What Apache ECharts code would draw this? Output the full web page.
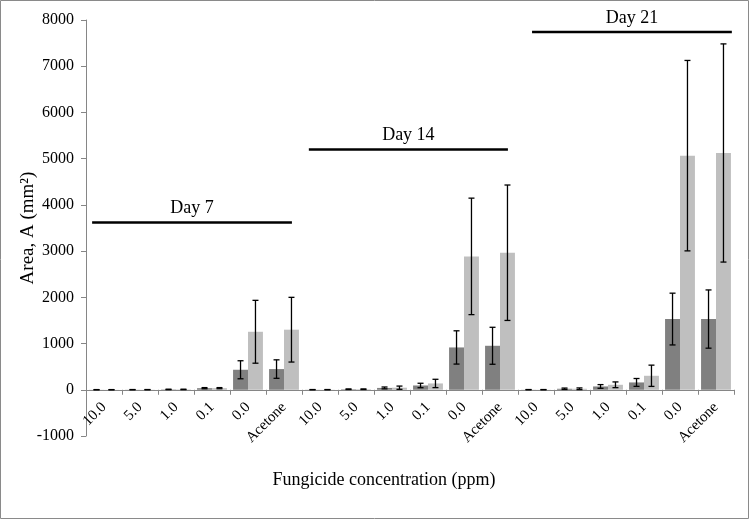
<!DOCTYPE html>
<html>
<head>
<meta charset="utf-8">
<script src="https://cdn.jsdelivr.net/npm/echarts@6/dist/echarts.min.js"></script>
<style>
html,body{margin:0;padding:0;background:#fff;}
#chart{width:749px;height:519px;}
</style>
</head>
<body>
<div id="chart"></div>
<script>
// ---- Data ----
const categories = ['10.0','5.0','1.0','0.1','0.0','Acetone',
                    '10.0','5.0','1.0','0.1','0.0','Acetone',
                    '10.0','5.0','1.0','0.1','0.0','Acetone'];
const darkValues  = [2, 3, 8, 35, 433, 448,   3, 12, 40, 93, 916, 952,   3, 22, 72, 159, 1530, 1530];
const darkErrors  = [2, 2, 5, 12, 195, 200,   2, 6, 20, 48, 360, 400,    2, 15, 40, 85, 560, 630];
const lightValues = [2, 3, 8, 35, 1255, 1300, 3, 12, 45, 137, 2886, 2965, 3, 22, 108, 303, 5065, 5123];
const lightErrors = [2, 2, 5, 12, 680, 700,   2, 6, 35, 90, 1260, 1465,  2, 18, 62, 230, 2060, 2360];
const yTicks = { min: -1000, max: 8000, interval: 1000 };
// Day bracket lines (x in category units, y in data units)
const dayLabels    = ['Day 7', 'Day 14', 'Day 21'];
const dayLineStart = [0.17, 6.19, 12.39];
const dayLineEnd   = [5.72, 11.72, 17.94];
const dayLineY     = [3620, 5200, 7740];

const FONT = "'Times New Roman','Liberation Serif',serif";
const CAT_GAP = 0.17;

const errData = [];
darkValues.forEach((v, i) => errData.push([i, v, darkErrors[i], 0]));
lightValues.forEach((v, i) => errData.push([i, v, lightErrors[i], 1]));

const dayData = dayLabels.map((l, i) => [dayLineStart[i], dayLineEnd[i], dayLineY[i], l]);

const chart = echarts.init(document.getElementById('chart'), null, { renderer: 'canvas' });
chart.setOption({
  animation: false,
  backgroundColor: '#fff',
  grid: { left: 86, right: 15, top: 20, bottom: 83, containLabel: false },
  xAxis: [{
    type: 'category',
    data: categories,
    axisLine: { onZero: true, lineStyle: { color: '#868686', width: 1 } },
    axisTick: { show: true, alignWithLabel: false, length: 5, lineStyle: { color: '#868686' } },
    axisLabel: { rotate: 45, color: '#000', fontFamily: FONT, fontSize: 15, margin: -31, interval: 0 },
    splitLine: { show: false }
  }, {
    type: 'value', min: 0, max: 18, show: false
  }],
  yAxis: [{
    type: 'value',
    min: yTicks.min, max: yTicks.max, interval: yTicks.interval,
    name: 'Area, A (mm²)',
    nameLocation: 'middle',
    nameGap: 48,
    nameMoveOverlap: false,
    nameTextStyle: { color: '#000', fontFamily: FONT, fontSize: 19 },
    axisLine: { show: true, lineStyle: { color: '#868686', width: 1 } },
    axisTick: { show: true, length: 5, lineStyle: { color: '#868686' } },
    axisLabel: { color: '#000', fontFamily: FONT, fontSize: 16, margin: 12,
                 formatter: function (v) { return String(v); } },
    splitLine: { show: false }
  }],
  graphic: [
    { type: 'rect', shape: { x: 0.5, y: 0.5, width: 748, height: 518 },
      style: { fill: 'none', stroke: '#8a8a8a', lineWidth: 1 }, z: 100 },
    { type: 'text', x: 384, y: 480,
      style: { text: 'Fungicide concentration (ppm)', fill: '#000', font: '18px ' + FONT,
               textAlign: 'center', textVerticalAlign: 'middle' } }
  ],
  series: [
    { type: 'bar', data: darkValues, barGap: '0%', barCategoryGap: (CAT_GAP * 100) + '%',
      itemStyle: { color: '#808080' } },
    { type: 'bar', data: lightValues, barGap: '0%', barCategoryGap: (CAT_GAP * 100) + '%',
      itemStyle: { color: '#bfbfbf' } },
    { type: 'custom', data: errData, z: 10,
      renderItem: function (params, api) {
        const i = api.value(0), v = api.value(1), e = api.value(2), s = api.value(3);
        const band = api.size([1, 0])[0];
        const bw = band * (1 - CAT_GAP) / 2;
        const c = api.coord([i, v]);
        const x = c[0] + (s === 0 ? -bw / 2 : bw / 2);
        const yTop = api.coord([i, v + e])[1];
        const yBot = api.coord([i, v - e])[1];
        const cap = 3;
        const st = { stroke: '#000', lineWidth: 1.3 };
        return { type: 'group', children: [
          { type: 'line', shape: { x1: x, y1: yTop, x2: x, y2: yBot }, style: st },
          { type: 'line', shape: { x1: x - cap, y1: yTop, x2: x + cap, y2: yTop }, style: st },
          { type: 'line', shape: { x1: x - cap, y1: yBot, x2: x + cap, y2: yBot }, style: st }
        ]};
      }
    },
    { type: 'custom', data: dayData, xAxisIndex: 1, yAxisIndex: 0, z: 10,
      renderItem: function (params, api) {
        const p1 = api.coord([api.value(0), api.value(2)]);
        const p2 = api.coord([api.value(1), api.value(2)]);
        const label = dayLabels[params.dataIndex];
        return { type: 'group', children: [
          { type: 'line', shape: { x1: p1[0], y1: p1[1], x2: p2[0], y2: p2[1] },
            style: { stroke: '#000', lineWidth: 2.5 } },
          { type: 'text', x: (p1[0] + p2[0]) / 2, y: p1[1] - 14,
            style: { text: label, fill: '#000', font: '18px ' + FONT,
                     textAlign: 'center', textVerticalAlign: 'middle' } }
        ]};
      }
    }
  ]
});
</script>
</body>
</html>
